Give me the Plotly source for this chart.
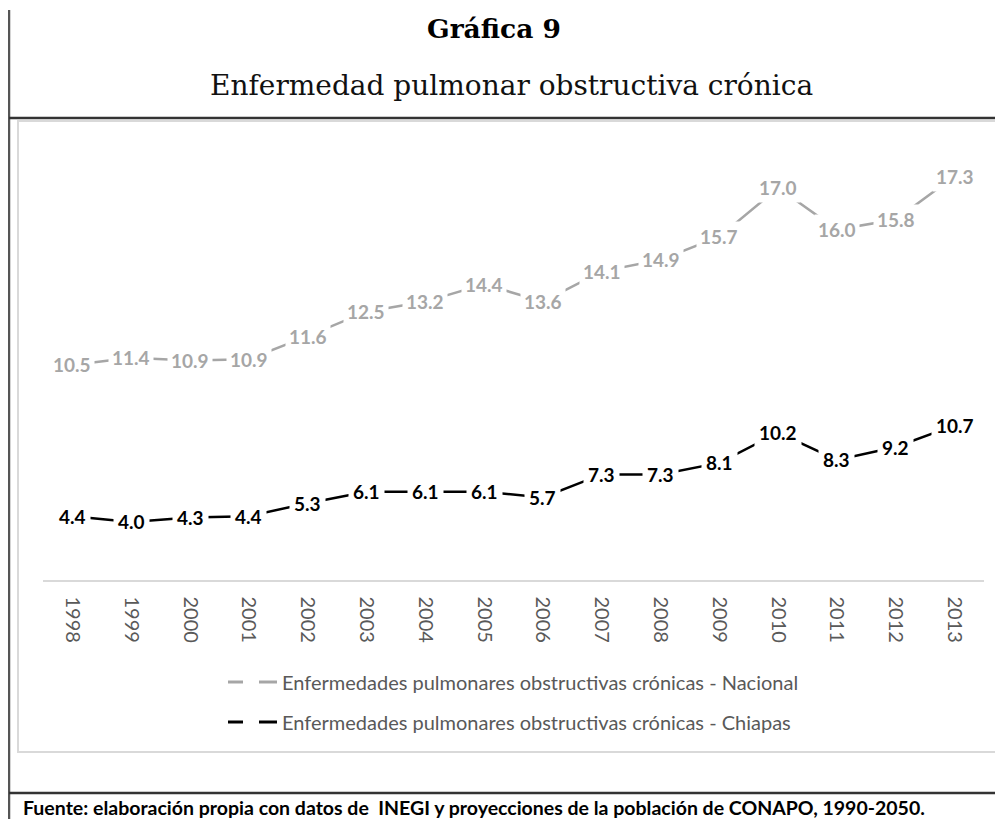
import plotly.graph_objects as go

# page has an 8px body margin, so the figure starts at (8, 8) in the window
OFF = 8
W, H = 1003 - OFF, 819 - OFF

years = [str(y) for y in range(1998, 2014)]
nacional = [10.5, 11.4, 10.9, 10.9, 11.6, 12.5, 13.2, 14.4, 13.6, 14.1, 14.9, 15.7, 17.0, 16.0, 15.8, 17.3]
chiapas = [4.4, 4.0, 4.3, 4.4, 5.3, 6.1, 6.1, 6.1, 5.7, 7.3, 7.3, 8.1, 10.2, 8.3, 9.2, 10.7]

name_nac = "Enfermedades pulmonares obstructivas crónicas - Nacional"
name_chi = "Enfermedades pulmonares obstructivas crónicas - Chiapas"
title_main = "Gráfica 9"
title_sub = "Enfermedad pulmonar obstructiva crónica"
source = "Fuente: elaboración propia con datos de  INEGI y proyecciones de la población de CONAPO, 1990-2050."

GRAY = "#a6a6a6"
BLACK = "#000000"
SANS = "Lato, 'Open Sans', sans-serif"
SERIF = "'DejaVu Serif', serif"


def px(x):
    return (x - OFF) / W


def py(y):
    return 1 - (y - OFF) / H


fig = go.Figure()
# stacked line chart (Excel "stacked line"): Chiapas bottom, Nacional stacked on top
fig.add_trace(go.Scatter(x=years, y=chiapas, name=name_chi, stackgroup="s", fill="none",
                         mode="lines", line=dict(color=BLACK, width=2.5), showlegend=False))
fig.add_trace(go.Scatter(x=years, y=nacional, name=name_nac, stackgroup="s", fill="none",
                         mode="lines", line=dict(color=GRAY, width=2.5), showlegend=False))

annotations = []
for i, yr in enumerate(years):
    annotations.append(dict(x=i, y=chiapas[i], xref="x", yref="y", text=f"<b>{chiapas[i]:.1f}</b>",
                            showarrow=False, bgcolor="white", borderpad=4,
                            font=dict(family=SANS, size=19, color=BLACK)))
    annotations.append(dict(x=i, y=chiapas[i] + nacional[i], xref="x", yref="y",
                            text=f"<b>{nacional[i]:.1f}</b>", showarrow=False, bgcolor="white", borderpad=3,
                            font=dict(family=SANS, size=19, color=GRAY)))

# titles
annotations.append(dict(x=px(494), y=py(29), xref="paper", yref="paper", text=f"<b>{title_main}</b>",
                        showarrow=False, xanchor="center", yanchor="middle",
                        font=dict(family=SERIF, size=26.5, color="#000000")))
annotations.append(dict(x=px(512), y=py(86), xref="paper", yref="paper", text=title_sub,
                        showarrow=False, xanchor="center", yanchor="middle",
                        font=dict(family=SERIF, size=28, color="#111111")))
# legend (manual)
for yy, nm in [(682, name_nac), (722, name_chi)]:
    annotations.append(dict(x=px(280), y=py(yy), xref="paper", yref="paper", text=nm,
                            showarrow=False, xanchor="left", yanchor="middle",
                            font=dict(family=SANS, size=20, color="#595959")))
# source
annotations.append(dict(x=px(21), y=py(807), xref="paper", yref="paper", text=f"<b>{source}</b>",
                        showarrow=False, xanchor="left", yanchor="middle",
                        font=dict(family=SANS, size=19.5, color="#000000")))

shapes = [
    # inner chart box
    dict(type="rect", xref="paper", yref="paper", x0=px(18), x1=px(1010), y0=py(752), y1=py(121),
         line=dict(color="#d9d9d9", width=2), layer="below"),
    # outer frame lines
    dict(type="line", xref="paper", yref="paper", x0=px(9), x1=px(9), y0=py(10), y1=py(830),
         line=dict(color="#555555", width=2.5)),
    dict(type="line", xref="paper", yref="paper", x0=px(9), x1=px(1010), y0=py(118), y1=py(118),
         line=dict(color="#333333", width=2.5)),
    dict(type="line", xref="paper", yref="paper", x0=px(9), x1=px(1010), y0=py(793), y1=py(793),
         line=dict(color="#333333", width=2.5)),
]
for yy, col in [(682, GRAY), (722, BLACK)]:
    shapes.append(dict(type="line", xref="paper", yref="paper", x0=px(228), x1=px(243), y0=py(yy), y1=py(yy),
                       line=dict(color=col, width=3)))
    shapes.append(dict(type="line", xref="paper", yref="paper", x0=px(259), x1=px(277), y0=py(yy), y1=py(yy),
                       line=dict(color=col, width=3)))

fig.update_layout(
    width=W, height=H,
    margin=dict(l=0, r=0, t=0, b=0),
    paper_bgcolor="white", plot_bgcolor="white",
    showlegend=False,
    annotations=annotations,
    shapes=shapes,
    xaxis=dict(type="category", categoryorder="array", categoryarray=years,
               range=[-0.5, 15.5], domain=[px(43), px(984)],
               showline=True, linecolor="#d9d9d9", linewidth=2, showgrid=False, zeroline=False,
               ticks="", tickangle=90, ticklabelstandoff=11,
               tickfont=dict(family=SANS, size=20, color="#595959")),
    yaxis=dict(range=[0, 30], domain=[py(579.5), py(147.5)], visible=False, showgrid=False,
               zeroline=False),
)

fig.write_html("out.html")
